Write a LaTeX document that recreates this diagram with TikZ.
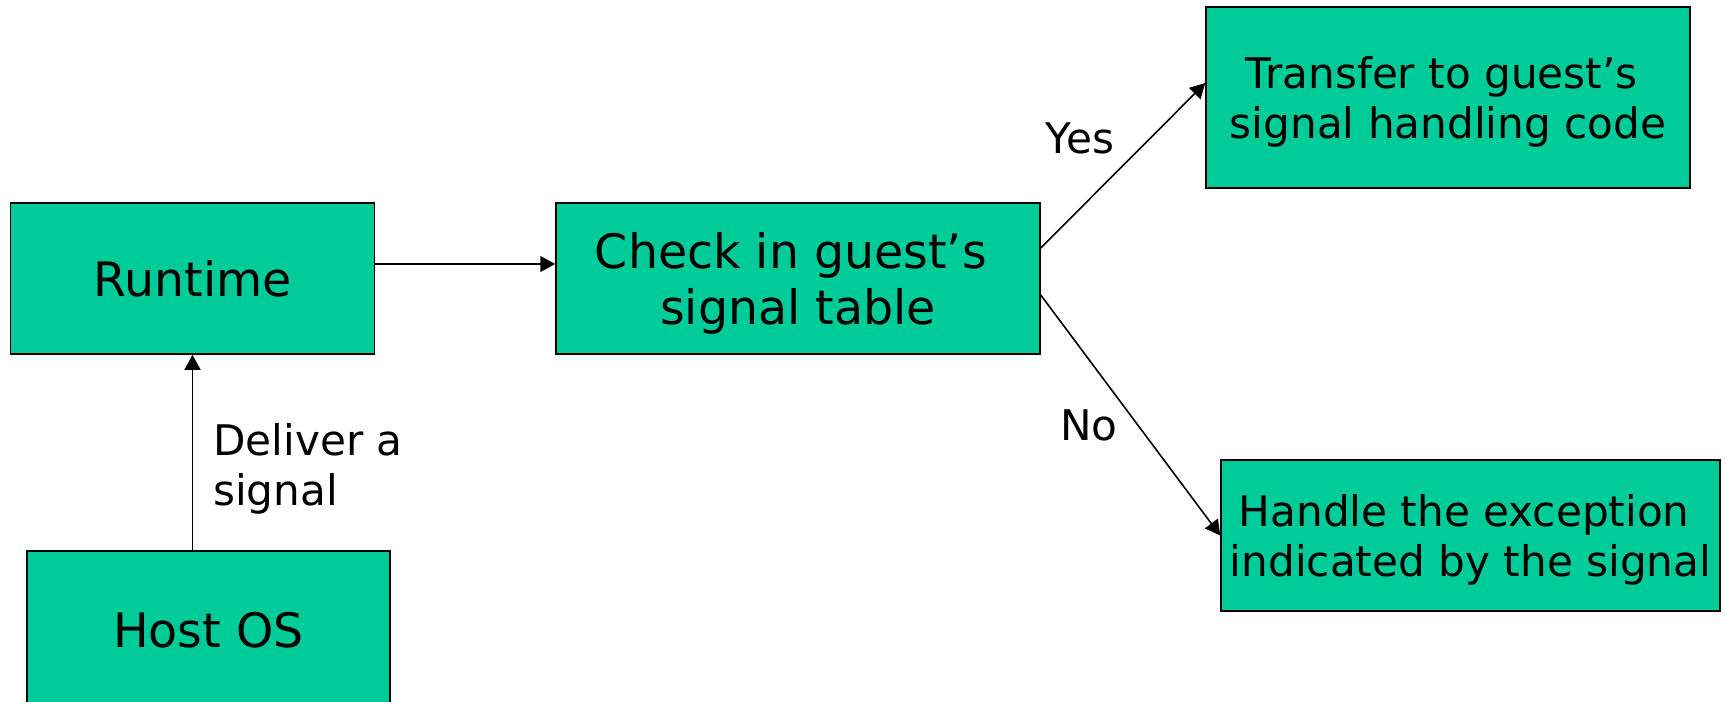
\documentclass[tikz,border=0pt]{standalone}
\usepackage{fontspec}
\setmainfont{DejaVu Sans}
\usetikzlibrary{arrows.meta,positioning}
\definecolor{boxgreen}{RGB}{0,204,153}
\tikzset{
  box/.style={draw=black,fill=boxgreen,line width=0.9pt,inner sep=0pt,align=center,text depth=0pt,font=\fontsize{27}{32.4}\selectfont},
  smallbox/.style={box,font=\fontsize{24}{28.5}\selectfont},
  lbl/.style={inner sep=0pt,font=\fontsize{24}{28.5}\selectfont}
}

\begin{document}
\begin{tikzpicture}[x=0.02cm,y=-0.02cm]
\clip (0,0) rectangle (1726,701);
\node[box,minimum width=7.28cm,minimum height=3.02cm] (R) at (192.5,278.5) {Runtime};
\node[box,minimum width=7.26cm,minimum height=3.14cm] (H) at (208.5,629.5) {Host OS};
\node[box,minimum width=9.68cm,minimum height=3.02cm] (C) at (798,278.5) {Check in guest’s\hspace*{.3em}\\signal table};
\node[smallbox,minimum width=9.68cm,minimum height=3.62cm] (T) at (1448,97.5) {Transfer to guest’s\hspace*{.3em}\\signal handling code};
\node[smallbox,minimum width=9.98cm,minimum height=3.02cm] (E) at (1470.5,535.5) {Handle the exception\hspace*{.3em}\\indicated by the signal};
\path[->,line width=0.9pt,>={Triangle[length=3mm,width=3.2mm]}]
(R.south |- H.north) edge node[lbl,pos=.43,right=0.4cm,yshift=-0.06cm,align=left] {Deliver a\\signal} (R.south)
([yshift=0.29cm]R.east) edge ([yshift=0.29cm]C.west)
([yshift=0.61cm]C.east) edge node[lbl,xshift=-0.86cm,yshift=0.55cm] {Yes} ([yshift=0.29cm]T.west)
([yshift=-0.33cm]C.east) edge node[lbl,xshift=-0.83cm,yshift=-0.21cm] {No} (E.west);
\end{tikzpicture}
\end{document}
